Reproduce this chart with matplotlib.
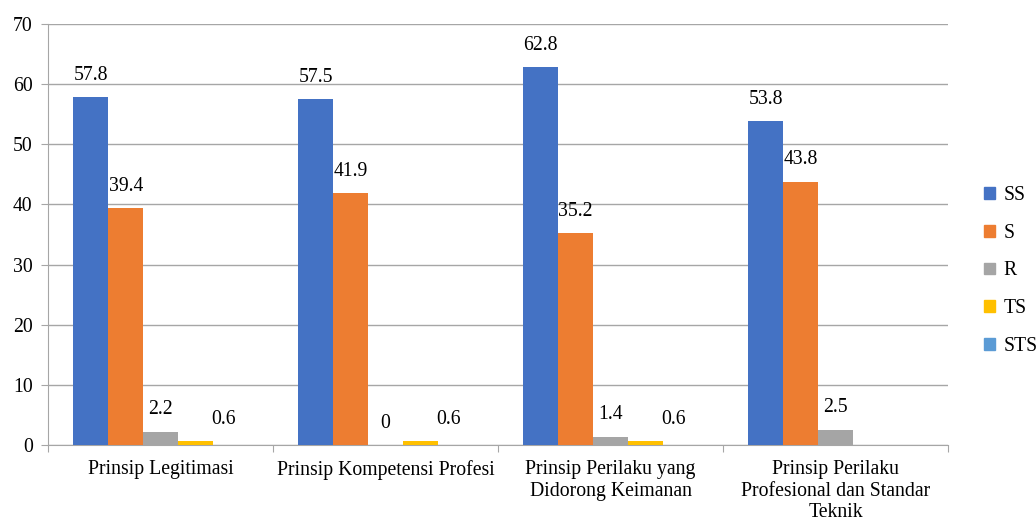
import numpy as np
import matplotlib.pyplot as plt
from matplotlib.patches import Patch

categories = ["Prinsip Legitimasi",
              "Prinsip Kompetensi Profesi",
              "Prinsip Perilaku yang\nDidorong Keimanan",
              "Prinsip Perilaku\nProfesional dan Standar\nTeknik"]
series = ["SS", "S", "R", "TS", "STS"]
ss = [57.8, 57.5, 62.8, 53.8]
s = [39.4, 41.9, 35.2, 43.8]
r = [2.2, 0, 1.4, 2.5]
ts = [0.6, 0.6, 0.6, None]
sts = [None, None, None, None]
colors = ["#4472C4", "#ED7D31", "#A5A5A5", "#FFC000", "#5B9BD5"]

plt.rcParams['font.family'] = ['Liberation Serif', 'DejaVu Serif']
fs = 14.2

fig = plt.figure(figsize=(10.36, 5.21), dpi=100)
ax = fig.add_axes([48/1036, 1-445/521, 900/1036, 421/521])

x = np.arange(len(categories))
w = 0.155
# TS labels sit a little right of their bars
label_dx = [0, 0, 0, 20, 0]
for j, vals in enumerate([ss, s, r, ts, sts]):
    h = np.array([np.nan if v is None else v for v in vals], dtype=float)
    xs = x + (j - 2) * w
    ax.bar(xs, h, w, color=colors[j], zorder=3)
    for xi, v in zip(xs, vals):
        if v is None:
            continue
        ax.annotate(f"{v:g}", (xi, v), xytext=(label_dx[j], 9),
                    textcoords="offset points", ha="center", va="bottom",
                    fontsize=fs)

ax.set_xlim(-0.5, 3.5)
ax.set_ylim(0, 70)
ax.set_yticks(range(0, 71, 10))
ax.yaxis.grid(True, color="#A6A6A6", linewidth=1, zorder=0)
ax.set_axisbelow(True)

ax.set_xticks(np.arange(-0.5, 4, 1))
ax.set_xticklabels([])
ax.set_xticks(x, minor=True)
ax.set_xticklabels(categories, minor=True, fontsize=fs, linespacing=1.18)
ax.tick_params(axis="x", which="minor", length=0, pad=11)
ax.tick_params(axis="x", which="major", length=5, color="#A6A6A6")
ax.tick_params(axis="y", length=5, color="#A6A6A6", labelsize=fs, pad=6)

for side in ["top", "right"]:
    ax.spines[side].set_visible(False)
for side in ["left", "bottom"]:
    ax.spines[side].set_color("#A6A6A6")

handles = [Patch(color=c) for c in colors]
fig.legend(handles, series, loc="center left", bbox_to_anchor=(984/1036, 0.48),
           frameon=False, fontsize=fs, handlelength=0.55, handleheight=0.55,
           handletextpad=0.45, labelspacing=0.95, borderaxespad=0, borderpad=0)

fig.savefig("out.png", dpi=100)
